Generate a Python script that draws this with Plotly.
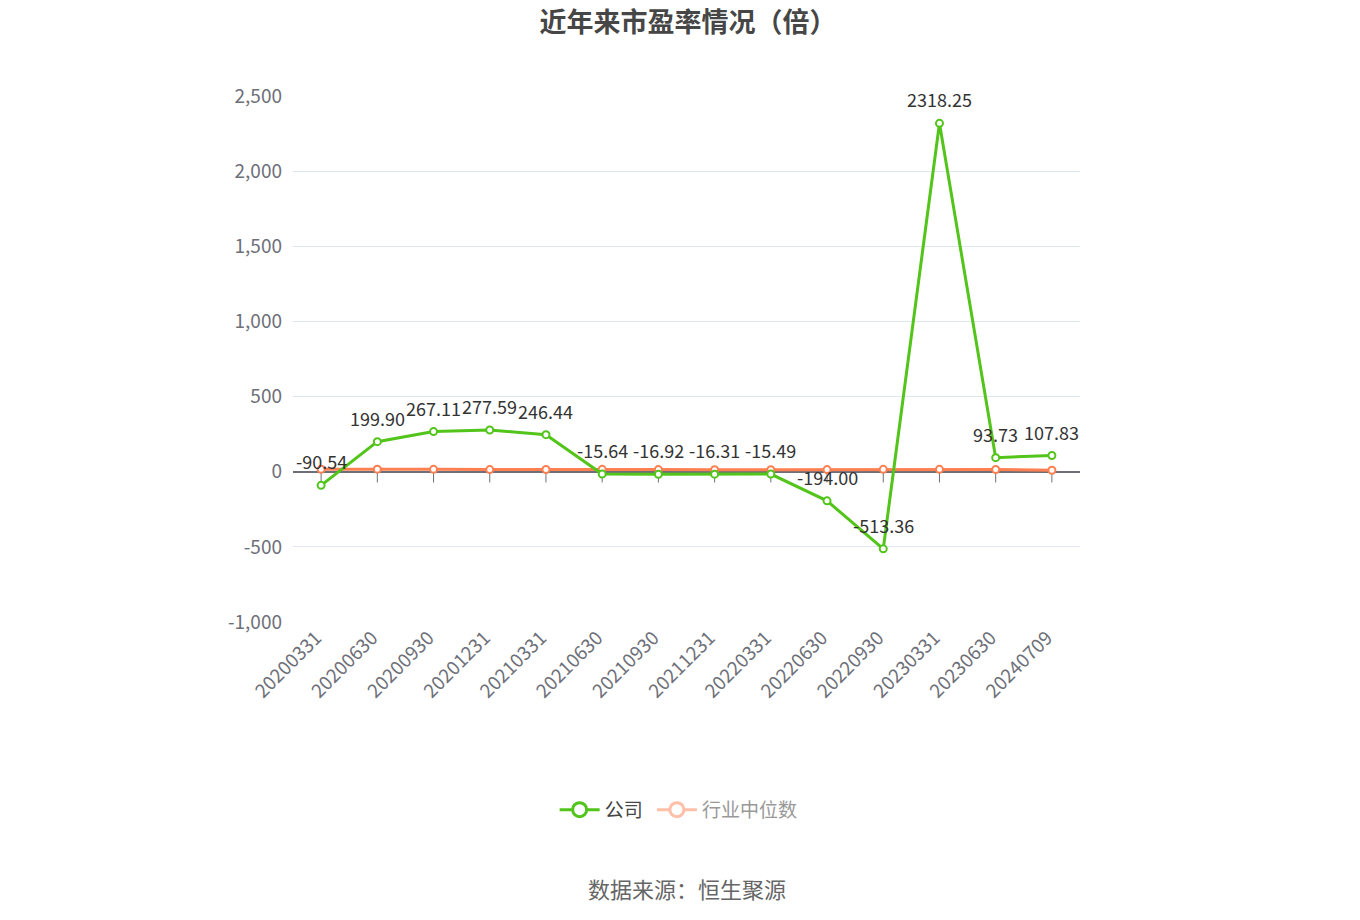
import plotly.graph_objects as go

dates = ["20200331", "20200630", "20200930", "20201231", "20210331", "20210630",
         "20210930", "20211231", "20220331", "20220630", "20220930", "20230331",
         "20230630", "20240709"]
company_pe = [-90.54, 199.90, 267.11, 277.59, 246.44, -15.64, -16.92, -16.31,
              -15.49, -194.00, -513.36, 2318.25, 93.73, 107.83]
industry_median = [16, 17, 16, 14, 15, 16, 14, 13, 13, 14, 16, 16, 15, 10]

y_ticks = [-1000, -500, 0, 500, 1000, 1500, 2000, 2500]
y_tick_text = ["-1,000", "-500", "0", "500", "1,000", "1,500", "2,000", "2,500"]

green = "#52C41A"
orange = "#FF7F50"
font_family = "Microsoft YaHei, Noto Sans CJK SC, Noto Sans, sans-serif"

fig = go.Figure()

# small tick marks below the zero line at each category
fig.add_trace(go.Scatter(
    x=dates, y=[-25] * len(dates), mode="markers",
    marker=dict(symbol="line-ns", size=10, line=dict(color="#6E7079", width=1)),
    showlegend=False, hoverinfo="skip"))

fig.add_trace(go.Scatter(
    x=dates, y=industry_median, mode="lines+markers",
    line=dict(color=orange, width=3),
    marker=dict(symbol="circle", size=7, color="white", line=dict(color=orange, width=2)),
    showlegend=False, name="行业中位数"))

fig.add_trace(go.Scatter(
    x=dates, y=company_pe, mode="lines+markers",
    line=dict(color=green, width=3),
    marker=dict(symbol="circle", size=7, color="white", line=dict(color=green, width=2)),
    showlegend=False, name="公司", cliponaxis=False))

# legend-only entries (bigger symbols, faded median item)
fig.add_trace(go.Scatter(
    x=[dates[0]], y=[None], mode="lines+markers",
    line=dict(color=green, width=3),
    marker=dict(symbol="circle", size=14, color="white", line=dict(color=green, width=3)),
    name="公司 ", showlegend=True, hoverinfo="skip"))
fig.add_trace(go.Scatter(
    x=[dates[0]], y=[None], mode="lines+markers",
    line=dict(color="#FFBFA8", width=3),
    marker=dict(symbol="circle", size=14, color="white", line=dict(color="#FFBFA8", width=3)),
    name="<span style='color:#999999'>行业中位数</span>", showlegend=True, hoverinfo="skip"))

# value labels: x given as category index so the dates are not read as numbers
annotations = []
for i, v in enumerate(company_pe):
    annotations.append(dict(x=i, y=v, text="%.2f" % v, showarrow=False,
                            xanchor="center", yanchor="middle", yshift=24,
                            font=dict(size=18, color="#333333", family=font_family)))
annotations.append(dict(text="数据来源：恒生聚源", xref="paper", yref="paper",
                        x=0.5, y=-0.506, xanchor="center", yanchor="middle",
                        showarrow=False, font=dict(size=22, color="#666666")))

fig.update_layout(
    width=1360, height=920,
    margin=dict(l=285, r=288, t=88, b=306),
    paper_bgcolor="white", plot_bgcolor="white",
    font=dict(family=font_family, size=18, color="#6E7079"),
    title=dict(text="<b>近年来市盈率情况（倍）</b>", x=0.5, xanchor="center",
               y=1, yanchor="top", pad=dict(t=5),
               font=dict(size=27, color="#464646", family=font_family)),
    legend=dict(orientation="h", x=0.49, xanchor="center", y=-0.357, yanchor="middle",
                font=dict(size=19, color="#464646"), itemwidth=40),
    annotations=annotations,
)

fig.update_xaxes(type="category", categoryorder="array", categoryarray=dates,
                 range=[-0.5, len(dates) - 0.5],
                 tickangle=-45, showgrid=False,
                 showline=False, zeroline=False, ticks="",
                 ticklabelshift=-5,
                 tickfont=dict(size=19, color="#6E7079"))
fig.update_yaxes(range=[-1000, 2500], tickvals=y_ticks, ticktext=y_tick_text,
                 showgrid=True, gridcolor="#E0E6F1", gridwidth=1,
                 zeroline=True, zerolinecolor="#6E7079", zerolinewidth=1.5,
                 ticks="", ticklabelstandoff=10,
                 tickfont=dict(size=19, color="#6E7079"))

fig.write_html("out.html")
